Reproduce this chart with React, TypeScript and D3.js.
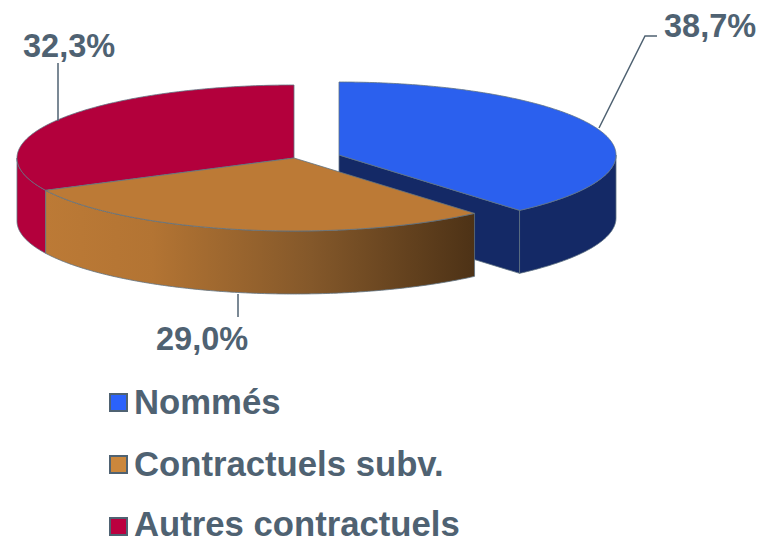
import React from 'react';
import * as d3 from 'd3';

const categories = ['Nommés', 'Contractuels subv.', 'Autres contractuels'];
const shares = [38.7, 29.0, 32.3];
const shareLabels = ['38,7%', '29,0%', '32,3%'];
const topColors = ['#2b60ee', '#bc7a36', '#b3003c'];
const sideColors = ['#142966', 'url(#brownSide)', '#b3003c'];
const legendColors = ['#2b62fb', '#cb873c', '#bb003f'];

const WIDTH = 772;
const HEIGHT = 538;
const RX = 277;
const RY = 73;
const DEPTH = 63;
const EDGE = '#5f7282';
const TEXT = '#4f6272';
const FONT = '"Liberation Sans", Arial, sans-serif';

// slice centres: the blue one is pulled out of the pie
const centers = [
  { x: 339, y: 155 },
  { x: 294, y: 158 },
  { x: 294, y: 158 },
];

const labelPos = [
  { x: 664, y: 37 },
  { x: 156, y: 350 },
  { x: 23, y: 57 },
];

const leaders = [
  [[599, 128], [645, 36], [657, 36]],
  [[238, 294], [238, 317]],
  [[58, 121], [58, 63]],
];

const legendBaselines = [414, 476, 536];
const legendSwatchTops = [394, 456, 518];

const slices = d3.pie<number>().sort(null).value(d => d)(shares);

const project = (c: { x: number; y: number }, angle: number, dy = 0): [number, number] => [
  c.x + RX * Math.sin(angle),
  c.y - RY * Math.cos(angle) + dy,
];

const sample = (a0: number, a1: number) => {
  const n = Math.max(2, Math.ceil((a1 - a0) / 0.01));
  return d3.range(n + 1).map(i => a0 + ((a1 - a0) * i) / n);
};

const line = d3.line<[number, number]>();

function topPath(i: number) {
  const c = centers[i];
  const s = slices[i];
  const rim = sample(s.startAngle, s.endAngle).map(a => project(c, a));
  return line([[c.x, c.y], ...rim]) + 'Z';
}

// outer wall, only the part of the rim facing the viewer
function wallPath(i: number) {
  const c = centers[i];
  const s = slices[i];
  const a0 = Math.max(s.startAngle, Math.PI / 2);
  const a1 = Math.min(s.endAngle, (Math.PI * 3) / 2);
  if (a1 <= a0) return '';
  const angles = sample(a0, a1);
  const up = angles.map(a => project(c, a));
  const down = angles.slice().reverse().map(a => project(c, a, DEPTH));
  return line([...up, ...down]) + 'Z';
}

// cut face of the exploded slice
function cutPath(i: number) {
  const c = centers[i];
  const p = project(c, slices[i].endAngle);
  return line([[c.x, c.y], p, [p[0], p[1] + DEPTH], [c.x, c.y + DEPTH]]) + 'Z';
}

function Slice({ i }: { i: number }) {
  return (
    <g stroke={EDGE} strokeWidth={0.8} strokeLinejoin="round">
      {i === 0 ? <path d={cutPath(i)} fill={sideColors[i]} /> : null}
      <path d={wallPath(i)} fill={sideColors[i]} />
      <path d={topPath(i)} fill={topColors[i]} />
    </g>
  );
}

export default function App() {
  return (
    <svg
      width={WIDTH}
      height={HEIGHT}
      style={{ position: 'absolute', left: 0, top: 0, display: 'block' }}
    >
      <defs>
        <linearGradient id="brownSide" gradientUnits="userSpaceOnUse" x1={45} x2={474} y1={0} y2={0}>
          <stop offset="0" stopColor="#bc7a36" />
          <stop offset="0.25" stopColor="#b37433" />
          <stop offset="0.62" stopColor="#84582a" />
          <stop offset="1" stopColor="#4d3216" />
        </linearGradient>
      </defs>

      <Slice i={0} />
      <Slice i={2} />
      <Slice i={1} />

      {leaders.map((pts, i) => (
        <path key={i} d={line(pts as [number, number][]) ?? ''} fill="none" stroke={TEXT} strokeWidth={1.5} />
      ))}

      <g fontFamily={FONT} fontWeight="bold" fill={TEXT}>
        {shareLabels.map((t, i) => (
          <text key={t} x={labelPos[i].x} y={labelPos[i].y} fontSize={32.5}>{t}</text>
        ))}
        {categories.map((t, i) => (
          <g key={t}>
            <rect x={110} y={legendSwatchTops[i]} width={17} height={17} fill={legendColors[i]} stroke={TEXT} strokeWidth={2} />
            <text x={134} y={legendBaselines[i]} fontSize={34.7}>{t}</text>
          </g>
        ))}
      </g>
    </svg>
  );
}
